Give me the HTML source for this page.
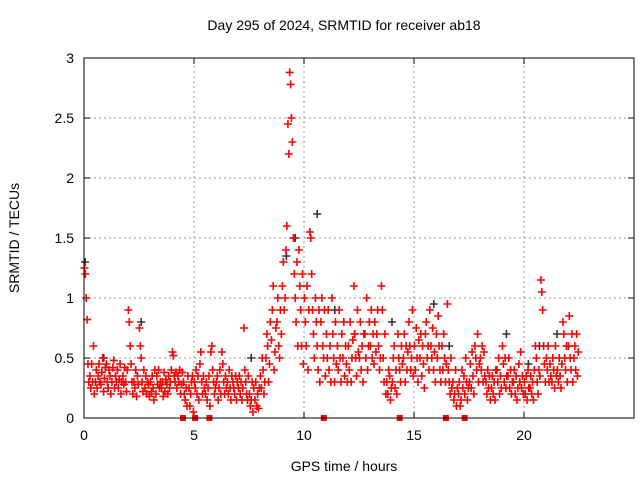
<!DOCTYPE html>
<html><head><meta charset="utf-8"><style>
body{margin:0;background:#fff;width:640px;height:480px;overflow:hidden}
svg{font-family:"Liberation Sans",sans-serif;}
</style></head><body>
<svg id="chart" width="640" height="480" viewBox="0 0 640 480">
<text x="344" y="30" font-size="14" text-anchor="middle">Day 295 of 2024, SRMTID for receiver ab18</text>
<text transform="translate(19,238) rotate(-90)" font-size="14" text-anchor="middle">SRMTID / TECUs</text>
<text x="344" y="471" font-size="14" text-anchor="middle">GPS time / hours</text>
<g id="grid"></g>
<g id="ticks"></g>
<g id="pts"></g>
<rect x="84" y="58" width="550" height="360" fill="none" stroke="#000" stroke-width="1"/>
</svg>
<script>
const xTicks=[0,5,10,15,20];
const yTicks=[0,0.5,1,1.5,2,2.5,3];
const yTickLabels=["0","0.5","1","1.5","2","2.5","3"];
const binHours=[0,0.25,0.5,0.75,1,1.25,1.5,1.75,2,2.25,2.5,2.75,3,3.25,3.5,3.75,4,4.25,4.5,4.75,5,5.25,5.5,5.75,6,6.25,6.5,6.75,7,7.25,7.5,7.75,8,8.25,8.5,8.75,9,9.25,9.5,9.75,10,10.25,10.5,10.75,11,11.25,11.5,11.75,12,12.25,12.5,12.75,13,13.25,13.5,13.75,14,14.25,14.5,14.75,15,15.25,15.5,15.75,16,16.25,16.5,16.75,17,17.25,17.5,17.75,18,18.25,18.5,18.75,19,19.25,19.5,19.75,20,20.25,20.5,20.75,21,21.25,21.5,21.75,22,22.25];
const binValues=[
[1.25,1.2,1.0,0.82,0.45,0.3],[0.35,0.25,0.45,0.3,0.6,0.2],[0.3,0.4,0.25,0.35,0.45,0.3],[0.28,0.38,0.5,0.22,0.33,0.42],
[0.45,0.3,0.25,0.4,0.35,0.2],[0.3,0.42,0.48,0.25,0.35,0.3],[0.4,0.25,0.32,0.45,0.2,0.3],[0.35,0.28,0.42,0.3,0.22,0.4],
[0.9,0.8,0.6,0.45,0.3,0.2],[0.3,0.25,0.4,0.18,0.35,0.28],[0.75,0.6,0.5,0.3,0.22,0.4],[0.25,0.35,0.2,0.3,0.28,0.18],
[0.3,0.22,0.35,0.25,0.15,0.4],[0.2,0.35,0.28,0.4,0.25,0.3],[0.25,0.3,0.18,0.38,0.22,0.32],[0.28,0.2,0.35,0.25,0.3,0.4],
[0.55,0.52,0.35,0.3,0.38,0.25],[0.35,0.3,0.4,0.2,0.28,0.38],[0.3,0.2,0.15,0.25,0.1,0.35],[0.25,0.1,0.2,0.3,0.35,0.05],
[0.3,0.25,0.4,0.2,0.35,0.15],[0.45,0.55,0.3,0.2,0.35,0.25],[0.2,0.3,0.15,0.25,0.35,0.1],[0.55,0.6,0.4,0.3,0.2,0.25],
[0.3,0.35,0.15,0.25,0.4,0.2],[0.55,0.45,0.3,0.2,0.35,0.25],[0.3,0.2,0.4,0.25,0.15,0.35],[0.3,0.25,0.2,0.35,0.15,0.3],
[0.25,0.35,0.2,0.3,0.15,0.25],[0.75,0.4,0.3,0.2,0.15,0.35],[0.2,0.1,0.15,0.3,0.05,0.25],[0.15,0.3,0.1,0.2,0.08,0.25],
[0.35,0.25,0.5,0.4,0.2,0.3],[0.5,0.7,0.6,0.3,0.45,0.8],[0.65,0.9,1.1,0.4,0.55,0.75],[0.8,1.0,0.6,0.5,0.9,0.7],
[1.1,1.3,0.9,1.0,1.4,1.6],[2.45,2.2,2.88,2.78,2.5,2.3],[1.5,1.2,1.0,0.8,1.3,0.6],[1.4,1.1,0.9,0.6,1.2,0.45],
[1.0,0.8,0.6,1.1,0.4,0.9],[1.55,1.5,1.2,0.9,0.7,0.5],[1.0,0.8,0.6,0.4,0.9,0.3],[0.8,1.0,0.6,0.5,0.9,0.35],
[0.7,0.5,0.9,0.4,0.6,0.3],[1.0,0.7,0.5,0.3,0.8,0.45],[0.6,0.4,0.9,0.5,0.3,0.7],[0.5,0.8,0.35,0.6,0.45,0.3],
[0.6,0.4,0.8,0.3,0.5,0.65],[1.1,0.7,0.5,0.35,0.9,0.55],[0.5,0.8,0.4,0.6,0.3,0.7],[0.7,0.5,1.0,0.4,0.6,0.8],
[0.6,0.9,0.5,0.7,0.45,0.8],[0.55,0.7,0.9,0.6,0.4,0.5],[1.1,0.9,0.5,0.3,0.7,0.2],[0.3,0.2,0.4,0.35,0.15,0.25],
[0.3,0.5,0.6,0.25,0.4,0.2],[0.7,0.5,0.4,0.3,0.6,0.45],[0.5,0.7,0.3,0.6,0.4,0.55],[0.8,0.6,0.4,0.5,0.9,0.35],
[0.6,0.4,0.75,0.5,0.3,0.65],[0.5,0.7,0.35,0.6,0.45,0.25],[0.7,0.8,0.5,0.6,0.4,0.9],[0.6,0.5,0.75,0.4,0.55,0.3],
[0.7,0.5,0.85,0.6,0.4,0.3],[0.6,0.4,0.7,0.5,0.3,0.45],[0.95,0.4,0.3,0.2,0.5,0.25],[0.3,0.15,0.2,0.4,0.1,0.25],
[0.2,0.3,0.1,0.15,0.4,0.25],[0.35,0.2,0.5,0.3,0.15,0.25],[0.3,0.45,0.25,0.55,0.35,0.2],[0.6,0.5,0.4,0.7,0.3,0.45],
[0.5,0.4,0.6,0.3,0.55,0.35],[0.3,0.2,0.4,0.25,0.35,0.15],[0.25,0.35,0.2,0.3,0.15,0.4],[0.4,0.3,0.5,0.2,0.35,0.25],
[0.6,0.45,0.3,0.5,0.25,0.35],[0.35,0.5,0.25,0.4,0.2,0.3],[0.3,0.4,0.2,0.35,0.15,0.25],[0.45,0.3,0.55,0.25,0.35,0.2],
[0.3,0.2,0.35,0.15,0.4,0.25],[0.25,0.35,0.2,0.3,0.15,0.4],[0.6,0.5,0.3,0.2,0.4,0.35],[1.15,1.05,0.9,0.6,0.45,0.3],
[0.5,0.4,0.6,0.3,0.45,0.35],[0.3,0.5,0.4,0.25,0.6,0.35],[0.4,0.3,0.5,0.35,0.25,0.45],[0.8,0.7,0.5,0.4,0.6,0.3],
[0.6,0.85,0.5,0.4,0.7,0.3],[0.5,0.6,0.4,0.7,0.35,0.55]];
const blackHours=[0.05,0.9,2.6,7.6,9.2,9.6,10.6,11.4,12.3,14.0,15.9,16.6,19.2,20.2,20.7,21.5];
const blackValues=[1.3,0.5,0.8,0.5,1.35,1.5,1.7,0.9,0.7,0.8,0.95,0.6,0.7,0.45,0.6,0.7];
const markHours=[4.5,5.05,5.7,10.9,14.35,16.45,17.3];
const X0=84,X1=634,Y0=418,Y1=58,XMAX=25,YMAX=3;
const sx=h=>X0+h/XMAX*(X1-X0), sy=v=>Y0-v/YMAX*(Y0-Y1);
const NS="http://www.w3.org/2000/svg";
const grid=document.getElementById('grid'),ticks=document.getElementById('ticks'),pts=document.getElementById('pts');
function mk(tag,attrs,parent){const e=document.createElementNS(NS,tag);for(const k in attrs)e.setAttribute(k,attrs[k]);parent.appendChild(e);return e;}
xTicks.forEach(t=>{const x=sx(t);
 if(t>0){const g=mk('line',{x1:x,x2:x,y1:Y0,y2:Y1,stroke:'#999','stroke-dasharray':'2,3'},grid);
 
 }
 mk('line',{x1:x,x2:x,y1:Y0,y2:Y0-6,stroke:'#000'},ticks);mk('line',{x1:x,x2:x,y1:Y1,y2:Y1+6,stroke:'#000'},ticks);
 const l=mk('text',{x:x,y:Y0+22,'font-size':14,'text-anchor':'middle'},ticks);l.textContent=t;
 
 });
yTicks.forEach((t,i)=>{const y=sy(t);
 if(t>0&&t<YMAX){const g=mk('line',{x1:X0,x2:X1,y1:y,y2:y,stroke:'#999','stroke-dasharray':'2,3'},grid);
 
 }
 mk('line',{x1:X0,x2:X0+6,y1:y,y2:y,stroke:'#000'},ticks);mk('line',{x1:X1,x2:X1-6,y1:y,y2:y,stroke:'#000'},ticks);
 const l=mk('text',{x:X0-10,y:y+5,'font-size':14,'text-anchor':'end'},ticks);l.textContent=yTickLabels[i];
 
 });
function plus(x,y,c,name){const p=mk('path',{d:`M${x-4},${y}h8M${x},${y-4}v8`,stroke:c,'stroke-width':1.6,fill:'none'},pts);
 
 }
blackHours.forEach((h,i)=>plus(sx(h),sy(blackValues[i]),'#333','black-point'));
binHours.forEach((h,i)=>binValues[i].forEach((v,j)=>plus(sx(h+0.02+j*0.04),sy(v),'#f00','red-point')));
markHours.forEach(h=>{const r=mk('rect',{x:sx(h)-3,y:Y0-3,width:6,height:6,fill:'#f00'},pts);
 
 });
</script>
</body></html>
